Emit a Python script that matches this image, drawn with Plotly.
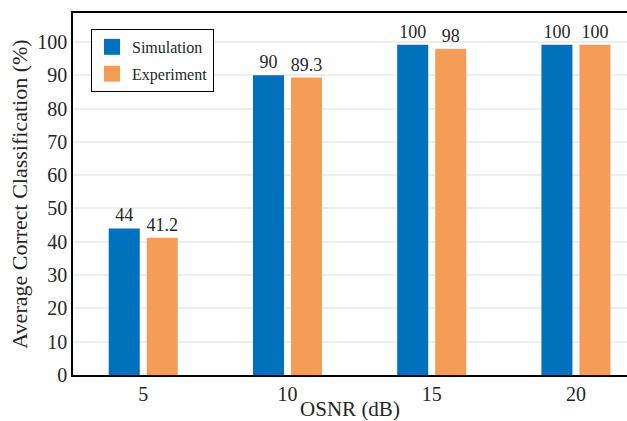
import plotly.graph_objects as go

categories = ["5", "10", "15", "20"]
cat_pos = [1, 2, 3, 4]
simulation = [44, 90, 99.2, 99.2]
experiment = [41.2, 89.3, 98, 99.2]
sim_labels = ["44", "90", "100", "100"]
exp_labels = ["41.2", "89.3", "98", "100"]
y_ticks = [0, 10, 20, 30, 40, 50, 60, 70, 80, 90, 100]

FONT = "Liberation Serif"
BLUE = "#0072BD"
ORANGE = "#F59D57"
TXT = "#262626"

fig = go.Figure()
series = [(simulation, sim_labels, "Simulation", BLUE),
          (experiment, exp_labels, "Experiment", ORANGE)]
for vals, labels, name, col in series:
    fig.add_trace(go.Bar(x=cat_pos, y=vals, name=name, marker_color=col,
                         marker_line_width=0, text=labels, textposition="outside",
                         textfont=dict(family=FONT, size=18, color=TXT), cliponaxis=False,
                         showlegend=False))
# legend entries with larger square swatches
for vals, labels, name, col in series:
    fig.add_trace(go.Scatter(x=[None], y=[None], mode="markers", name=name,
                             legendgroup=name,
                             marker=dict(symbol="square", size=16, color=col)))

fig.update_layout(
    width=627, height=421,
    margin=dict(l=73, r=0, t=13, b=46),
    paper_bgcolor="white", plot_bgcolor="white",
    barmode="group", bargap=0.473, bargroupgap=0.184,
    font=dict(family=FONT, size=18, color=TXT),
    uniformtext=dict(minsize=18, mode="show"),
    xaxis=dict(range=[0.513, 4.354], tickmode="array", tickvals=cat_pos, ticktext=categories,
               showline=True, linecolor="black", linewidth=1.5, mirror=True,
               showgrid=False, ticks="", zeroline=False, automargin=False,
               title=dict(text="OSNR (dB)", standoff=3, font=dict(family=FONT, size=21, color=TXT)),
               tickfont=dict(family=FONT, size=20, color=TXT)),
    yaxis=dict(range=[0, 108.7], tickmode="array", tickvals=y_ticks,
               showline=True, linecolor="black", linewidth=1.5, mirror=False,
               showgrid=True, gridcolor="#eeeeee", gridwidth=1.5, ticks="", zeroline=False,
               automargin=False,
               title=dict(text="Average Correct Classification (%)", standoff=4,
                          font=dict(family=FONT, size=22, color=TXT)),
               tickfont=dict(family=FONT, size=20, color=TXT)),
    legend=dict(x=0.0325, y=0.956, xanchor="left", yanchor="top",
                bordercolor="black", borderwidth=1, bgcolor="white",
                font=dict(family=FONT, size=16, color=TXT), itemwidth=30,
                tracegroupgap=3, itemsizing="trace"),
)

fig.write_html("out.html", config={"displayModeBar": False},
               post_script="document.body.style.margin='0';document.body.style.overflow='hidden';")
